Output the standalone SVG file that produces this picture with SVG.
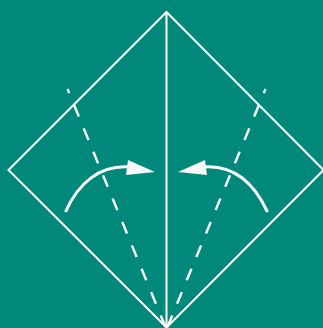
<svg xmlns="http://www.w3.org/2000/svg" width="323" height="328" viewBox="0 0 323 328">
<style>
.l{fill:none;stroke:#fff;stroke-width:2}
.d{fill:none;stroke:#fff;stroke-width:2.4;stroke-dasharray:12.5 12.8;stroke-dashoffset:8}
.c{fill:none;stroke:#fff;stroke-width:3}
.h{fill:#f8f8f8}
</style>
<rect width="323" height="328" fill="#00897b"/>
<g id="paper">
<path class="l" d="M166.500 12L8.500 170L166.500 327.500L323.500 170Z"/>
<path class="l" d="M166.500 12V327"/>
</g>
<g id="connectors">
<path class="d" d="M67.500 89L165.500 327"/>
<path class="d" d="M265.500 89L167.500 327"/>
</g>
<g id="arrow-left">
<path class="c" d="M65.500 212C78 183 100 165 129 167"/>
<path class="h" d="M155 172L128 160L126 175Z"/>
</g>
<g id="arrow-right">
<path class="c" d="M267.500 212C254 183 233 165 204 167"/>
<path class="h" d="M178 172L205 160L207 175Z"/>
</g>
</svg>
